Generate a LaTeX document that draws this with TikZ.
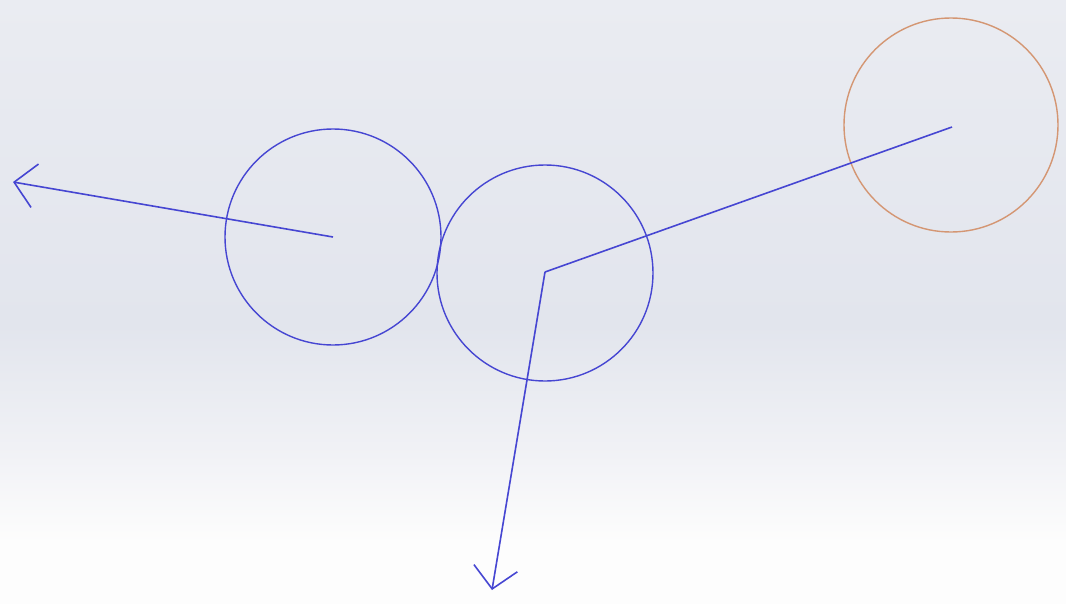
\documentclass[tikz,border=0pt]{standalone}
\usetikzlibrary{arrows.meta}
\definecolor{lineblue}{RGB}{70,70,210}
\definecolor{ringorange}{RGB}{212,150,115}
\definecolor{bgA}{RGB}{245,246,249}
\definecolor{bgE}{RGB}{233,235,241}
\definecolor{bgB}{RGB}{226,229,237}
\definecolor{bgC}{RGB}{240,241,245}
\definecolor{bgD}{RGB}{253,253,253}
\pgfdeclareverticalshading{bgshade}{100bp}{
  color(0bp)=(bgD); color(30bp)=(bgD); color(38bp)=(bgC); color(48bp)=(bgB); color(72bp)=(bgE); color(100bp)=(bgA)}
\tikzset{
  ring/.style={circle, draw=lineblue, line width=1.4pt, minimum size=216pt, inner sep=0pt},
  orangering/.style={circle, draw=ringorange, line width=1.4pt, minimum size=214pt, inner sep=0pt},
  vec/.style={draw=lineblue, line width=1.6pt},
  vecarrow/.style={vec, -{Straight Barb[length=21pt,width=44pt,line width=1.6pt]}}
}
\begin{document}
\begin{tikzpicture}[x=1pt,y=-1pt]
\useasboundingbox (0,0) rectangle (1066,603);
\shade[shading=bgshade] (0,0) rectangle (1066,603);
\node[ring] (c1) at (333,237) {};
\node[ring] (c2) at (545,273) {};
\node[orangering] (c3) at (951,125) {};
\coordinate (p1) at (333,237);
\coordinate (p2) at (545,272);
\coordinate (p3) at (952,127);
\coordinate (t1) at (13,182);
\coordinate (t2) at (492,590);
\draw[vecarrow] (p1) -- (t1);
\draw[vec, line join=miter] (p3) -- (p2);
\draw[vecarrow] (p2) -- (t2);
\end{tikzpicture}
\end{document}
